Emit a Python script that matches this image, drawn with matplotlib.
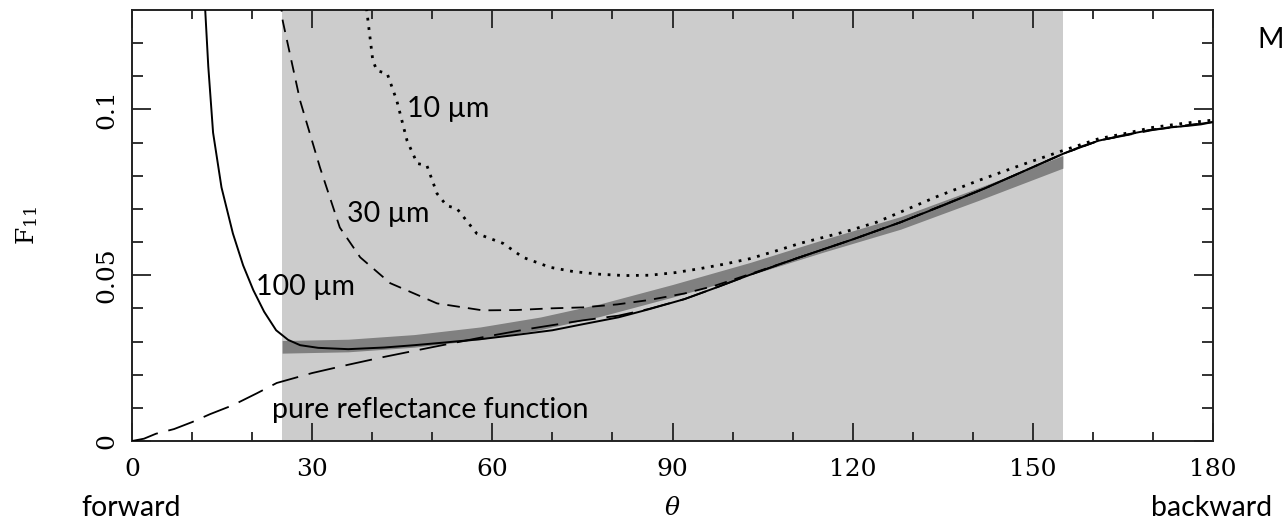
"""F11 phase function versus scattering angle for three particle sizes."""
import matplotlib

matplotlib.use("Agg")
import matplotlib.pyplot as plt

OUT = "out.png"

# 100 um particles (solid)
theta_100 = [11.9, 12.2, 12.7, 13.5, 14.9, 16.8, 18.5, 20.2, 22.0, 24.0, 26.0, 28.0,
             31.0, 36.0, 42.0, 47.0, 52.0, 58.0, 64.0, 70.0, 75.0, 81.0, 86.0, 92.0,
             97.0, 103.0, 111.0, 120.0, 128.0, 135.0, 142.0, 148.0, 155.0, 158.0,
             161.0, 165.0, 169.5, 173.0, 176.0, 178.0, 180.0]
f11_100 = [0.14, 0.1297, 0.113, 0.093, 0.0765, 0.0626, 0.053, 0.0455, 0.039, 0.0334,
           0.0305, 0.0289, 0.0281, 0.0277, 0.0282, 0.0289, 0.0297, 0.0307, 0.032,
           0.0334, 0.0352, 0.0373, 0.0397, 0.0428, 0.0461, 0.0502, 0.0553, 0.0608,
           0.066, 0.071, 0.0762, 0.081, 0.0866, 0.0888, 0.0906, 0.0922, 0.0938,
           0.0946, 0.0951, 0.0955, 0.0962]

# 30 um particles (dashed)
theta_30 = [24.6, 25.1, 28.0, 31.3, 34.6, 38.0, 43.0, 50.8, 58.4, 64.0, 69.6, 75.1,
            80.8, 86.0, 92.0, 97.0, 103.0, 111.0, 120.0, 128.0, 142.0, 155.0, 161.0,
            170.0, 180.0]
f11_30 = [0.135, 0.1267, 0.1026, 0.0825, 0.0644, 0.0554, 0.0476, 0.0415, 0.0394,
          0.0395, 0.040, 0.0403, 0.0412, 0.0425, 0.0445, 0.0468, 0.0504, 0.0553,
          0.0608, 0.066, 0.0762, 0.0866, 0.0906, 0.094, 0.0962]

# 10 um particles (dotted)
theta_10 = [38.8, 39.1, 40.1, 40.8, 42.5, 44.1, 45.8, 47.5, 49.1, 50.8, 52.4, 54.1,
            57.4, 61.8, 65.1, 69.6, 73.5, 77.9, 82.0, 86.2, 90.5, 94.6, 98.5, 102.9,
            107.0, 111.2, 115.3, 119.5, 124.0, 127.9, 134.0, 141.0, 148.0, 155.0,
            161.0, 165.5, 170.0, 175.0, 180.0]
f11_10 = [0.135, 0.1297, 0.1147, 0.1117, 0.1108, 0.1026, 0.0906, 0.0837, 0.0831,
          0.0746, 0.071, 0.0701, 0.0626, 0.0596, 0.0554, 0.0524, 0.0511, 0.0503,
          0.0499, 0.050, 0.0508, 0.052, 0.0533, 0.055, 0.0572, 0.0596, 0.0615,
          0.0635, 0.066, 0.069, 0.0737, 0.0786, 0.0832, 0.0876, 0.0912, 0.0928,
          0.0946, 0.0958, 0.0968]

# pure reflectance function (long dashes)
theta_refl = [0.0, 2.0, 4.0, 7.0, 10.0, 13.0, 16.8, 20.8, 24.1, 30.0, 36.0, 41.8,
              50.0, 58.4, 66.0, 75.1, 81.0, 86.0, 92.0, 97.0, 103.0, 111.0, 120.0,
              128.0, 142.0, 155.0, 161.0, 170.0, 180.0]
f11_refl = [0.0, 0.0007, 0.0022, 0.0036, 0.0057, 0.0081, 0.0108, 0.0144, 0.0175,
            0.0205, 0.023, 0.0253, 0.0283, 0.0313, 0.0338, 0.0364, 0.0378, 0.0398,
            0.0428, 0.0461, 0.0502, 0.0553, 0.0608, 0.066, 0.0762, 0.0866, 0.0906,
            0.0938, 0.0962]

# measured band (dark grey) and observed angular range (light grey)
band_theta = [25, 36, 47, 58, 68, 78, 90, 103, 115, 128, 141, 155]
band_mid = [0.0284, 0.0288, 0.0302, 0.0325, 0.0355, 0.0395, 0.0453, 0.052, 0.0588,
            0.0658, 0.0745, 0.0842]
BAND_HALF = 0.0019
RANGE = (25, 155)

LABEL_FONT = ["Lato", "DejaVu Sans"]


def main():
    plt.rcParams.update({
        "font.family": "DejaVu Serif",
        "mathtext.fontset": "dejavuserif",
        "axes.linewidth": 1.4,
        "axes.edgecolor": "#222222",
    })

    fig = plt.figure(figsize=(12.82, 5.25), dpi=100)
    ax = fig.add_axes([132 / 1282, 84 / 525, 1081 / 1282, 431 / 525])

    ax.axvspan(*RANGE, color="#cccccc", lw=0, zorder=0)
    ax.fill_between(band_theta,
                    [m - BAND_HALF for m in band_mid],
                    [m + BAND_HALF for m in band_mid],
                    color="#808080", lw=0, zorder=1)

    ax.plot(theta_refl, f11_refl, color="black", lw=1.3, dashes=(15, 6), zorder=3)
    ax.plot(theta_30, f11_30, color="black", lw=1.3, dashes=(7, 4.5), zorder=3)
    ax.plot(theta_10, f11_10, color="black", lw=2.0, dashes=(1, 2.4), zorder=3)
    ax.plot(theta_100, f11_100, color="black", lw=1.4, zorder=4)

    ax.text(45.8, 0.1002, "10 µm", family=LABEL_FONT, fontsize=20.5, va="center")
    ax.text(35.8, 0.0686, "30 µm", family=LABEL_FONT, fontsize=20.5, va="center")
    ax.text(20.6, 0.0464, "100 µm", family=LABEL_FONT, fontsize=20.5, va="center")
    ax.text(23.3, 0.0093, "pure reflectance function", family=LABEL_FONT,
            fontsize=20.5, va="center")

    ax.set_xlim(0, 180)
    ax.set_ylim(0, 0.13)
    ax.set_xticks(range(0, 181, 30))
    ax.set_xticks(range(0, 181, 10), minor=True)
    ax.set_yticks([0, 0.05, 0.1])
    ax.set_yticks([i / 100 for i in range(0, 13)], minor=True)
    ax.set_yticklabels(["0", "0.05", "0.1"])
    ax.tick_params(which="both", direction="in", top=True, right=True,
                   width=1.3, labelsize=18, color="#222222")
    ax.tick_params(axis="x", which="major", length=13, pad=12)
    ax.tick_params(axis="x", which="minor", length=6.5)
    ax.tick_params(axis="y", which="major", length=14, pad=10, labelrotation=90)
    ax.tick_params(axis="y", which="minor", length=8)
    for lab in ax.get_yticklabels():
        lab.set_va("center")

    ax.set_xlabel(r"$\theta$", fontsize=18, labelpad=12)
    ax.set_ylabel(r"$\mathrm{F}_{11}$", fontsize=18, labelpad=40)

    fig.text(131 / 1282, 1 - 508 / 525, "forward", family=LABEL_FONT, fontsize=20.5,
             ha="center", va="center")
    fig.text(1212 / 1282, 1 - 508 / 525, "backward", family=LABEL_FONT, fontsize=20.5,
             ha="center", va="center")
    fig.text(1257 / 1282, 1 - 40 / 525, "M", family=LABEL_FONT, fontsize=20.5,
             ha="left", va="center")

    fig.savefig(OUT, dpi=100)


if __name__ == "__main__":
    main()
